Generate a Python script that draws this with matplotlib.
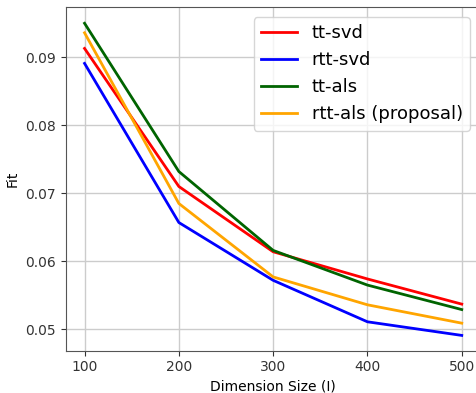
import matplotlib
matplotlib.use("Agg")
import matplotlib.pyplot as plt

dims = [100, 200, 300, 400, 500]
tt_svd = [0.0913, 0.0710, 0.0614, 0.0574, 0.0537]
rtt_svd = [0.0891, 0.0657, 0.0572, 0.0511, 0.0491]
tt_als = [0.0950, 0.0732, 0.0616, 0.0565, 0.0529]
rtt_als = [0.0936, 0.0685, 0.0577, 0.0536, 0.0509]
xticks = [100, 200, 300, 400, 500]
yticks = [0.05, 0.06, 0.07, 0.08, 0.09]

fig = plt.figure(figsize=(4.76, 3.93), dpi=100)
ax = fig.add_axes([65.7/476, 1-350.7/393, (480.6-65.7)/476, (350.7-7.3)/393])

ax.plot(dims, tt_svd, color='red', lw=2, label='tt-svd')
ax.plot(dims, rtt_svd, color='blue', lw=2, label='rtt-svd')
ax.plot(dims, tt_als, color='darkgreen', lw=2, label='tt-als')
ax.plot(dims, rtt_als, color='orange', lw=2, label='rtt-als (proposal)')

ax.set_xlim(80, 520)
ax.set_ylim(0.04685, 0.09735)
ax.set_xticks(xticks)
ax.set_yticks(yticks)
ax.grid(True, color='#cccccc', lw=1)
ax.set_xlabel('Dimension Size (I)', fontsize=10)
ax.set_ylabel('Fit', fontsize=10)
for s in ax.spines.values():
    s.set_color('#555555')
ax.tick_params(colors='#333333', labelsize=10)

ax.legend(loc='upper right', bbox_to_anchor=(470/476, 1-17/393),
          bbox_transform=fig.transFigure, borderaxespad=0, fontsize=13)

fig.savefig('out.png', dpi=100)
